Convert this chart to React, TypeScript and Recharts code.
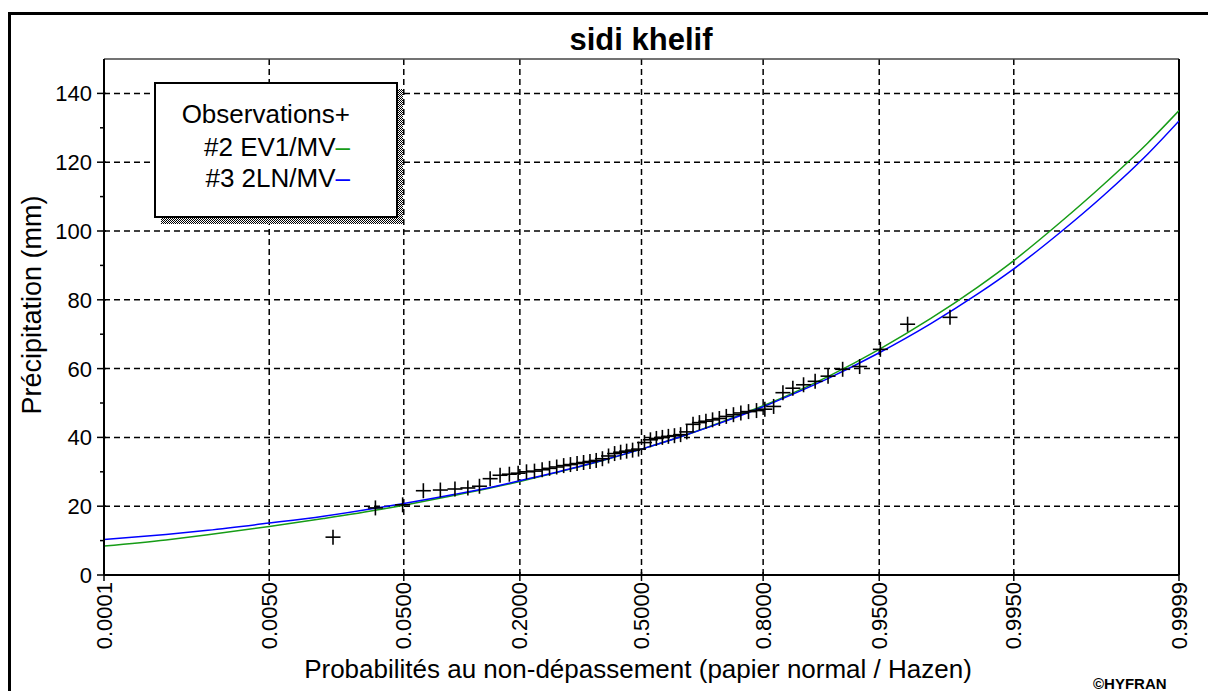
import React from 'react';
import { ComposedChart, Line, Scatter, XAxis, YAxis, CartesianGrid, ReferenceLine } from 'recharts';

// ---------- data ----------
const tickProbs = [0.0001, 0.005, 0.05, 0.2, 0.5, 0.8, 0.95, 0.995, 0.9999];
const tickLabels = ['0.0001', '0.0050', '0.0500', '0.2000', '0.5000', '0.8000', '0.9500', '0.9950', '0.9999'];
const yTicks = [0, 10, 20, 30, 40, 50, 60, 70, 80, 90, 100, 110, 120, 130, 140];
const yMajorTicks = [0, 20, 40, 60, 80, 100, 120, 140];
const yGridValues = [20, 40, 60, 80, 100, 120, 140];

// observations: non-exceedance probability and precipitation (mm)
const obsProb = [
  0.0164, 0.0328, 0.0492, 0.0656, 0.0820, 0.0984, 0.1148, 0.1311, 0.1475, 0.1639,
  0.1803, 0.1967, 0.2131, 0.2295, 0.2459, 0.2623, 0.2787, 0.2951, 0.3115, 0.3279,
  0.3443, 0.3607, 0.3770, 0.3934, 0.4098, 0.4262, 0.4426, 0.4590, 0.4754, 0.4918,
  0.5082, 0.5246, 0.5410, 0.5574, 0.5738, 0.5902, 0.6066, 0.6230, 0.6393, 0.6557,
  0.6721, 0.6885, 0.7049, 0.7213, 0.7377, 0.7541, 0.7705, 0.7869, 0.8033, 0.8197,
  0.8361, 0.8525, 0.8689, 0.8852, 0.9016, 0.9180, 0.9344, 0.9508, 0.9672, 0.9836,
];
const obsValue = [
  11.0, 19.5, 20.4, 24.5, 24.7, 25.0, 25.3, 25.8, 28.0, 29.0,
  29.3, 29.6, 30.0, 30.2, 30.6, 31.0, 31.4, 31.8, 32.1, 32.4,
  32.7, 33.0, 33.3, 33.8, 34.6, 35.3, 35.7, 36.0, 36.3, 36.6,
  38.5, 39.3, 39.7, 40.0, 40.3, 40.5, 40.8, 41.6, 43.8, 44.3,
  44.7, 45.1, 45.5, 46.1, 46.6, 47.1, 47.5, 47.8, 48.2, 49.0,
  53.0, 54.3, 55.3, 56.3, 57.8, 59.8, 60.6, 65.6, 72.9, 74.9,
];

// fitted curves
const curveProb = [
  0.0001, 0.0005, 0.00135, 0.005, 0.0139, 0.0359, 0.05, 0.0968, 0.1587, 0.2,
  0.3085, 0.4013, 0.5, 0.5987, 0.6915, 0.8, 0.8413, 0.9032, 0.95, 0.9772,
  0.99, 0.995, 0.9981, 0.99931, 0.99977, 0.9999,
];
const ev1Value = [
  8.4, 10.2, 11.7, 14.1, 16.4, 19.1, 20.3, 23.1, 25.7, 27.2,
  30.7, 33.5, 36.6, 39.9, 43.6, 49.2, 52.0, 57.9, 65.6, 74.5,
  83.7, 91.4, 102.4, 113.6, 125.6, 135.0,
];
const ln2Value = [
  10.3, 11.8, 13.0, 15.1, 17.1, 19.7, 20.8, 23.4, 25.9, 27.4,
  30.8, 33.6, 36.6, 39.9, 43.5, 48.9, 51.7, 57.3, 64.6, 73.0,
  81.7, 89.0, 99.5, 110.4, 122.4, 132.0,
];

// ---------- normal probability paper transform ----------
function probit(p: number): number {
  const a = [-3.969683028665376e1, 2.209460984245205e2, -2.759285104469687e2, 1.38357751867269e2, -3.066479806614716e1, 2.506628277459239];
  const b = [-5.447609879822406e1, 1.615858368580409e2, -1.556989798598866e2, 6.680131188771972e1, -1.328068155288572e1];
  const c = [-7.784894002430293e-3, -3.223964580411365e-1, -2.400758277161838, -2.549732539343734, 4.374664141464968, 2.938163982698783];
  const d = [7.784695709041462e-3, 3.224671290700398e-1, 2.445134137142996, 3.754408661907416];
  const pl = 0.02425;
  if (p < pl) {
    const q = Math.sqrt(-2 * Math.log(p));
    return (((((c[0] * q + c[1]) * q + c[2]) * q + c[3]) * q + c[4]) * q + c[5]) / ((((d[0] * q + d[1]) * q + d[2]) * q + d[3]) * q + 1);
  }
  if (p <= 1 - pl) {
    const q = p - 0.5;
    const r = q * q;
    return ((((((a[0] * r + a[1]) * r + a[2]) * r + a[3]) * r + a[4]) * r + a[5]) * q) / (((((b[0] * r + b[1]) * r + b[2]) * r + b[3]) * r + b[4]) * r + 1);
  }
  const q = Math.sqrt(-2 * Math.log(1 - p));
  return -(((((c[0] * q + c[1]) * q + c[2]) * q + c[3]) * q + c[4]) * q + c[5]) / ((((d[0] * q + d[1]) * q + d[2]) * q + d[3]) * q + 1);
}

const Z_MIN = probit(tickProbs[0]);
const Z_MAX = probit(tickProbs[tickProbs.length - 1]);
const xTicks = tickProbs.map(probit);
const xGridValues = xTicks.slice(1, -1);

const obsData = obsProb.map((p, i) => ({ x: probit(p), y: obsValue[i] }));
const ev1Data = curveProb.map((p, i) => ({ x: probit(p), y: ev1Value[i] }));
const ln2Data = curveProb.map((p, i) => ({ x: probit(p), y: ln2Value[i] }));

const FONT = '"Liberation Sans", Arial, Helvetica, sans-serif';

const XTick = (props: any) => {
  const { x, y, payload } = props;
  let idx = 0;
  let best = Infinity;
  xTicks.forEach((t, i) => {
    const dd = Math.abs(t - payload.value);
    if (dd < best) { best = dd; idx = i; }
  });
  return (
    <g>
      <line x1={x} x2={x} y1={y - 3} y2={y + 6} stroke="#000" strokeWidth={1.5} />
      <text
        transform={`translate(${x},${y + 7}) rotate(-90)`}
        textAnchor="end"
        dominantBaseline="central"
        fontSize={22}
        fontFamily={FONT}
        fill="#000"
      >
        {tickLabels[idx]}
      </text>
    </g>
  );
};

const YTick = (props: any) => {
  const { x, y, payload } = props;
  const v = payload.value;
  if (yMajorTicks.includes(v)) {
    return (
      <g>
        <line x1={x - 7} x2={x + 2} y1={y} y2={y} stroke="#000" strokeWidth={1.5} />
        <text x={x - 12} y={y} dy="0.36em" textAnchor="end" fontSize={22} fontFamily={FONT} fill="#000">
          {v}
        </text>
      </g>
    );
  }
  return <line x1={x - 4} x2={x} y1={y} y2={y} stroke="#000" strokeWidth={1.5} />;
};

const Cross = (props: any) => {
  const { cx, cy } = props;
  if (cx == null || cy == null) return null;
  const s = 7.5;
  return (
    <g>
      <line x1={cx - s} x2={cx + s} y1={cy} y2={cy} stroke="#000" strokeWidth={1.6} />
      <line x1={cx} x2={cx} y1={cy - s} y2={cy + s} stroke="#000" strokeWidth={1.6} />
    </g>
  );
};

export default function App() {
  return (
    <div style={{ position: 'absolute', left: 0, top: 0, width: 1208, height: 691, overflow: 'hidden', background: '#fff', fontFamily: FONT }}>
      <div
        style={{
          position: 'absolute', left: 8, top: 12, right: 0, bottom: 0,
          borderLeft: '3px solid #000', borderTop: '3px solid #000',
        }}
      />
      <div style={{ position: 'absolute', left: 0, top: 0 }}>
        <ComposedChart width={1208} height={691} margin={{ top: 59, right: 29, bottom: 26, left: 44 }}>
          <CartesianGrid
            stroke="#000"
            strokeWidth={1.5}
            strokeDasharray="6 4"
            horizontalValues={yGridValues}
            verticalValues={xGridValues}
          />
          <XAxis
            type="number"
            dataKey="x"
            domain={[Z_MIN, Z_MAX]}
            ticks={xTicks}
            allowDataOverflow
            height={90}
            tickSize={0}
            tickMargin={0}
            tickLine={false}
            axisLine={{ stroke: '#000', strokeWidth: 2 }}
            tick={<XTick />}
            interval={0}
          />
          <YAxis
            type="number"
            dataKey="y"
            domain={[0, 150]}
            ticks={yTicks}
            allowDataOverflow
            width={60}
            tickSize={0}
            tickMargin={0}
            tickLine={false}
            axisLine={{ stroke: '#000', strokeWidth: 2 }}
            tick={<YTick />}
            interval={0}
          />
          <ReferenceLine y={150} stroke="#444" strokeWidth={1.5} />
          <ReferenceLine x={Z_MAX} stroke="#000" strokeWidth={2} />
          <Line data={ev1Data} dataKey="y" type="monotone" stroke="#169c16" strokeWidth={1.5} dot={false} isAnimationActive={false} />
          <Line data={ln2Data} dataKey="y" type="monotone" stroke="#0000ff" strokeWidth={1.5} dot={false} isAnimationActive={false} />
          <Scatter data={obsData} dataKey="y" shape={<Cross />} isAnimationActive={false} />
        </ComposedChart>
      </div>
      <svg width={1208} height={691} style={{ position: 'absolute', left: 0, top: 0, pointerEvents: 'none' }}>
        <defs>
          <pattern id="checker" width={2} height={2} patternUnits="userSpaceOnUse">
            <rect x={0} y={0} width={2} height={2} fill="#fff" />
            <rect x={0} y={0} width={1} height={1} fill="#000" />
            <rect x={1} y={1} width={1} height={1} fill="#000" />
          </pattern>
        </defs>
        <text x={641} y={50} textAnchor="middle" fontSize={31} fontWeight="bold" fontFamily={FONT} fill="#000">
          sidi khelif
        </text>
        <text transform="translate(41,305) rotate(-90)" textAnchor="middle" fontSize={27} fontFamily={FONT} fill="#000">
          Précipitation (mm)
        </text>
        <text x={638} y={678} textAnchor="middle" fontSize={26} fontFamily={FONT} fill="#000">
          Probabilités au non-dépassement (papier normal / Hazen)
        </text>
        <text x={1093} y={689} fontSize={15} fontWeight="bold" fontFamily={FONT} fill="#000">
          ©HYFRAN
        </text>
        <rect x={161} y={89} width={242} height={135} fill="url(#checker)" />
        <rect x={155} y={83} width={242} height={134} fill="#fff" stroke="#000" strokeWidth={2} />
        <text x={350} y={123} textAnchor="end" fontSize={26} fontFamily={FONT} fill="#000">
          Observations+
        </text>
        <text x={350} y={156} textAnchor="end" fontSize={26} fontFamily={FONT} fill="#000">
          #2 EV1/MV<tspan fill="#169c16">–</tspan>
        </text>
        <text x={350} y={187} textAnchor="end" fontSize={26} fontFamily={FONT} fill="#000">
          #3 2LN/MV<tspan fill="#0000ff">–</tspan>
        </text>
      </svg>
    </div>
  );
}
